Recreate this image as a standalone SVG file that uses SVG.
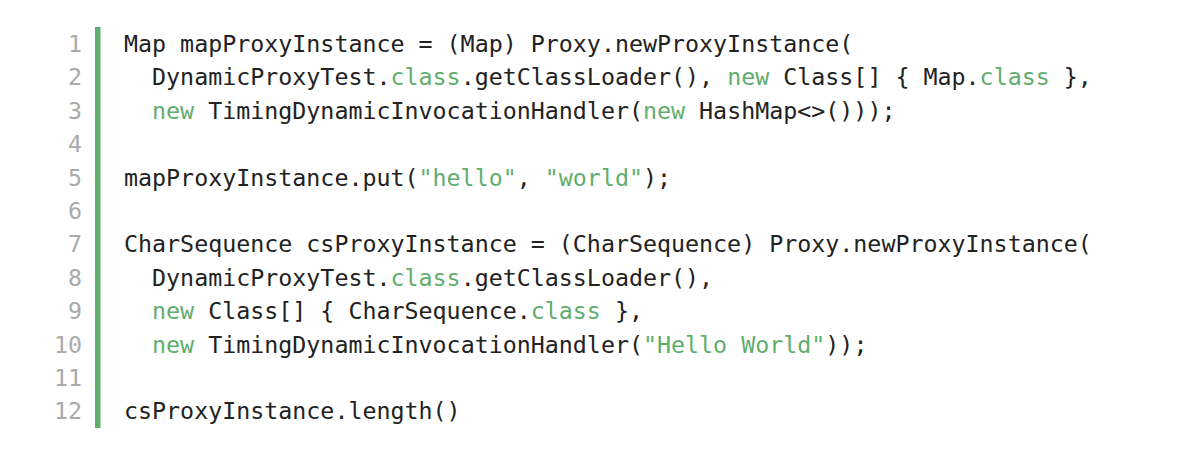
<svg xmlns="http://www.w3.org/2000/svg" width="1200" height="475" viewBox="0 0 1200 475">
<style>
text{font-family:"DejaVu Sans Mono","Liberation Mono",monospace;font-size:23.3px;white-space:pre}
.n{fill:#aaaaaa;text-anchor:end}
.c{fill:#222222}
.k{fill:#5fae6e}
</style>
<rect width="1200" height="475" fill="#ffffff"/>
<rect x="95" y="27" width="5.5" height="401" fill="#5fae6e"/>
<g id="numbers">
<text class="n" x="82" y="52">1</text>
<text class="n" x="82" y="85.4">2</text>
<text class="n" x="82" y="118.8">3</text>
<text class="n" x="82" y="152.2">4</text>
<text class="n" x="82" y="185.6">5</text>
<text class="n" x="82" y="219">6</text>
<text class="n" x="82" y="252.4">7</text>
<text class="n" x="82" y="285.8">8</text>
<text class="n" x="82" y="319.2">9</text>
<text class="n" x="82" y="352.6">10</text>
<text class="n" x="82" y="386">11</text>
<text class="n" x="82" y="419.4">12</text>
</g>
<g id="code" class="c">
<text class="c" x="124" y="52">Map mapProxyInstance = (Map) Proxy.newProxyInstance(</text>
<text class="c" x="124" y="85.4">  DynamicProxyTest.<tspan class="k">class</tspan>.getClassLoader(), <tspan class="k">new</tspan> Class[] { Map.<tspan class="k">class</tspan> },</text>
<text class="c" x="124" y="118.8">  <tspan class="k">new</tspan> TimingDynamicInvocationHandler(<tspan class="k">new</tspan> HashMap&lt;&gt;()));</text>
<text class="c" x="124" y="185.6">mapProxyInstance.put(<tspan class="k">"hello"</tspan>, <tspan class="k">"world"</tspan>);</text>
<text class="c" x="124" y="252.4">CharSequence csProxyInstance = (CharSequence) Proxy.newProxyInstance(</text>
<text class="c" x="124" y="285.8">  DynamicProxyTest.<tspan class="k">class</tspan>.getClassLoader(),</text>
<text class="c" x="124" y="319.2">  <tspan class="k">new</tspan> Class[] { CharSequence.<tspan class="k">class</tspan> },</text>
<text class="c" x="124" y="352.6">  <tspan class="k">new</tspan> TimingDynamicInvocationHandler(<tspan class="k">"Hello World"</tspan>));</text>
<text class="c" x="124" y="419.4">csProxyInstance.length()</text>
</g>
</svg>
